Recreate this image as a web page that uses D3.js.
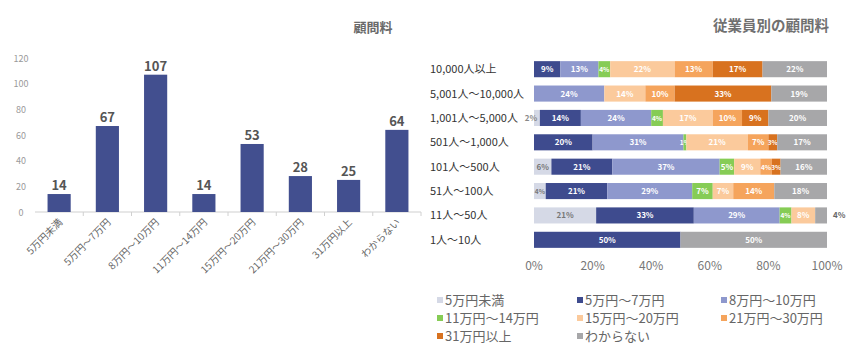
<!DOCTYPE html>
<html><head><meta charset="utf-8">
<script src="https://cdn.jsdelivr.net/npm/d3@7"></script>
<style>
html,body{margin:0;padding:0;background:#fff;}
svg{display:block;font-family:"Noto Sans CJK JP","Noto Sans",sans-serif;}
</style></head><body>
<svg id="c" width="856" height="361"></svg>
<script>
// ---- Left chart data ----
const feeBands = ["5万円未満","5万円～7万円","8万円～10万円","11万円～14万円","15万円～20万円","21万円～30万円","31万円以上","わからない"];
const feeCounts = [14,67,107,14,53,28,25,64];
const countTicks = [0,20,40,60,80,100,120];

// ---- Right chart data ----
const sizes = ["10,000人以上","5,001人～10,000人","1,001人～5,000人","501人～1,000人","101人～500人","51人～100人","11人～50人","1人～10人"];
const pctUnder5  = [0,0,2,0,6,4,21,0];
const pct5to7    = [9,0,14,20,21,21,33,50];
const pct8to10   = [13,24,24,31,37,29,29,0];
const pct11to14  = [4,0,4,1,5,7,4,0];
const pct15to20  = [22,14,17,21,9,7,8,0];
const pct21to30  = [13,10,10,7,4,14,0,0];
const pct31plus  = [17,33,9,3,3,0,0,0];
const pctUnknown = [22,19,20,17,16,18,4,50];
const pctTicks = [0,0.2,0.4,0.6,0.8,1];

const seriesValues = [pctUnder5,pct5to7,pct8to10,pct11to14,pct15to20,pct21to30,pct31plus,pctUnknown];
const colors = ["#d5d9e6","#3e4b8e","#8e98cd","#86cc55","#fbca9c","#f5a45c","#d8721f","#a7a7a9"];

const svg = d3.select("#c");

// ================= Left bar chart =================
const x = d3.scaleBand().domain(feeBands).range([35,421]).paddingInner(0.52).paddingOuter(0.26);
const y = d3.scaleLinear().domain([0,120]).range([212,58]);

svg.append("text").attr("x",373).attr("y",32).attr("text-anchor","middle")
  .attr("font-size",13).attr("font-weight","bold").attr("fill","#6a6a6a").text("顧問料");

svg.append("g").selectAll("text").data(countTicks).join("text")
  .attr("x",21).attr("y",d=>y(d)+3.5).attr("text-anchor","middle")
  .attr("font-size",9).attr("fill","#9a9a9a").text(d=>d);

const xAxisG = svg.append("g").attr("transform","translate(0,212)");
xAxisG.append("line").attr("x1",35).attr("x2",421).attr("stroke","#d0d0d0").attr("stroke-width",1.2);
const bounds = feeBands.map((d,i)=> x(d) - x.step()*x.paddingInner()/2).concat([421]);
xAxisG.selectAll("line.t").data(bounds.slice(1)).join("line").attr("class","t")
  .attr("x1",d=>d).attr("x2",d=>d).attr("y1",0).attr("y2",4).attr("stroke","#d0d0d0");

svg.append("g").selectAll("rect").data(feeCounts).join("rect")
  .attr("x",(d,i)=>x(feeBands[i])).attr("width",x.bandwidth())
  .attr("y",d=>y(d)).attr("height",d=>y(0)-y(d)).attr("fill","#424f8f");

svg.append("g").selectAll("text").data(feeCounts).join("text")
  .attr("x",(d,i)=>x(feeBands[i])+x.bandwidth()/2).attr("y",d=>y(d)-4)
  .attr("text-anchor","middle").attr("font-size",13).attr("font-weight","bold")
  .attr("fill","#555").text(d=>d);

svg.append("g").selectAll("text").data(feeBands).join("text")
  .attr("transform",d=>`translate(${x(d)+x.bandwidth()/2+4},${223}) rotate(-45)`)
  .attr("text-anchor","end").attr("font-size",10).attr("fill","#666").text(d=>d);

// ================= Right stacked chart =================
svg.append("text").attr("x",771).attr("y",31).attr("text-anchor","middle")
  .attr("font-size",14.5).attr("font-weight","bold").attr("fill","#707070").text("従業員別の顧問料");

const rows = sizes.map((s,i)=>{ const o={size:s}; feeBands.forEach((k,j)=>o[k]=seriesValues[j][i]); return o; });
const stack = d3.stack().keys(feeBands).offset(d3.stackOffsetExpand)(rows);

const xs = d3.scaleLinear().domain([0,1]).range([534,827]);
const ys = d3.scaleBand().domain(sizes).range([57,252]).paddingInner(0.34).paddingOuter(0.17);

svg.append("g").selectAll("text").data(sizes).join("text")
  .attr("x",430).attr("y",d=>ys(d)+ys.bandwidth()/2+4).attr("font-size",11)
  .attr("fill","#333").text(d=>d);

stack.forEach((layer,j)=>{
  const g = svg.append("g");
  g.selectAll("rect").data(layer).join("rect")
    .attr("x",d=>xs(d[0])).attr("width",d=>Math.max(0,xs(d[1])-xs(d[0])))
    .attr("y",d=>ys(d.data.size)).attr("height",ys.bandwidth()).attr("fill",colors[j]);
  g.selectAll("text").data(layer.filter(d=>seriesValues[j][sizes.indexOf(d.data.size)]>0)).join("text")
    .each(function(d){
      const v = seriesValues[j][sizes.indexOf(d.data.size)];
      const x0 = xs(d[0]), x1 = xs(d[1]), w = x1-x0;
      const t = d3.select(this).attr("y",ys(d.data.size)+ys.bandwidth()/2+3)
        .attr("font-size",w<14?6.5:8).attr("font-weight","bold").text(v+"%");
      if (j===feeBands.length-1 && w<15) {
        t.attr("x",x1+6).attr("text-anchor","start").attr("fill","#666").attr("font-size",8);
      } else if (j===0 && w<8) {
        t.attr("x",x0-3).attr("text-anchor","middle").attr("fill","#888").attr("font-size",8);
      } else {
        t.attr("x",(x0+x1)/2).attr("text-anchor","middle").attr("fill",j===0?"#777":"#fff");
      }
    });
});

svg.append("g").selectAll("text").data(pctTicks).join("text")
  .attr("x",d=>xs(d)).attr("y",270).attr("text-anchor","middle")
  .attr("font-size",12).attr("fill","#777").text(d=>Math.round(d*100)+"%");

const legX = [437,577,721], legY = [300,318,336];
const leg = svg.append("g").selectAll("g").data(feeBands).join("g")
  .attr("transform",(d,i)=>`translate(${legX[i%3]},${legY[Math.floor(i/3)]})`);
leg.append("rect").attr("x",0).attr("y",-3).attr("width",6).attr("height",6).attr("fill",(d,i)=>colors[i]);
leg.append("text").attr("x",8).attr("y",4.5).attr("font-size",13).attr("fill","#666").text(d=>d);
</script></body></html>
